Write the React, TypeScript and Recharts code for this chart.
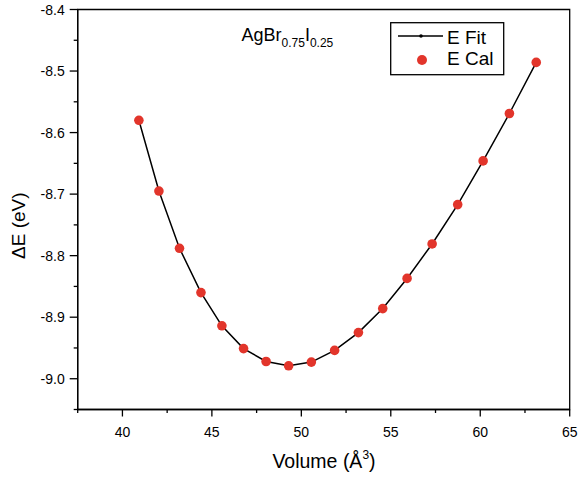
import { ComposedChart, Line, XAxis, YAxis, ReferenceArea, Legend } from "recharts";

const VOLUME = [40.92, 42.04, 43.19, 44.39, 45.56, 46.77, 48.03, 49.29, 50.56, 51.86, 53.19, 54.55, 55.91, 57.31, 58.74, 60.16, 61.63, 63.13];
const E_CAL = [-8.58, -8.695, -8.788, -8.86, -8.914, -8.951, -8.972, -8.979, -8.973, -8.954, -8.925, -8.886, -8.837, -8.781, -8.717, -8.646, -8.569, -8.486];
const E_FIT = [-8.58, -8.695, -8.788, -8.86, -8.914, -8.951, -8.972, -8.979, -8.973, -8.954, -8.925, -8.886, -8.837, -8.781, -8.717, -8.646, -8.569, -8.486];

const X_TICKS = [37.5, 40, 42.5, 45, 47.5, 50, 52.5, 55, 57.5, 60, 62.5, 65];
const Y_TICKS = [-9.05, -9.0, -8.95, -8.9, -8.85, -8.8, -8.75, -8.7, -8.65, -8.6, -8.55, -8.5, -8.45, -8.4];

const FONT = "'Liberation Sans', Arial, sans-serif";
const RED = "#e2352b";

const data = VOLUME.map((v, i) => ({ v, fit: E_FIT[i], cal: E_CAL[i] }));

const isMajorX = (v: number) => Math.abs(v / 5 - Math.round(v / 5)) < 1e-6;
const isMajorY = (v: number) => Math.abs(v * 10 - Math.round(v * 10)) < 1e-6;

function XTick(props: any) {
  const { x, y, payload } = props;
  const major = isMajorX(payload.value);
  return (
    <g>
      <line x1={x} x2={x} y1={y} y2={y + (major ? 7 : 3.5)} stroke="#000" strokeWidth={1.3} />
      {major && (
        <text x={x} y={y + 27.5} textAnchor="middle" fontSize={14} fontFamily={FONT} fill="#000">
          {payload.value}
        </text>
      )}
    </g>
  );
}

function YTick(props: any) {
  const { x, y, payload } = props;
  const major = isMajorY(payload.value);
  return (
    <g>
      <line x1={x - (major ? 8 : 4)} x2={x} y1={y} y2={y} stroke="#000" strokeWidth={1.3} />
      {major && (
        <text x={x - 13} y={y + 5} textAnchor="end" fontSize={14} fontFamily={FONT} fill="#000">
          {payload.value.toFixed(1)}
        </text>
      )}
    </g>
  );
}

function LegendBox() {
  return (
    <svg width={115} height={54} style={{ display: "block" }}>
      <rect x={0.7} y={0.7} width={113} height={52} fill="#fff" stroke="#000" strokeWidth={1.3} />
      <line x1={8} x2={53} y1={14} y2={14} stroke="#000" strokeWidth={1.5} />
      <circle cx={31} cy={14} r={1.8} fill="#000" />
      <text x={57} y={21.5} fontSize={19} fontFamily={FONT} fill="#000">E Fit</text>
      <circle cx={32} cy={38} r={5} fill={RED} />
      <text x={57} y={43} fontSize={19} fontFamily={FONT} fill="#000">E Cal</text>
    </svg>
  );
}

export default function App() {
  return (
    <div style={{ position: "absolute", left: 0, top: 0, background: "#fff" }}>
      <ComposedChart
        width={586}
        height={479}
        data={data}
        margin={{ top: 9.5, right: 16.3, bottom: 0, left: 0 }}
      >
        <XAxis
          dataKey="v"
          type="number"
          domain={[37.5, 65]}
          ticks={X_TICKS}
          interval={0}
          tickSize={0}
          tickMargin={0}
          tick={<XTick />}
          height={69.5}
          axisLine={{ stroke: "#000", strokeWidth: 1.3 }}
          allowDataOverflow
        />
        <YAxis
          type="number"
          domain={[-9.05, -8.4]}
          ticks={Y_TICKS}
          interval={0}
          tickSize={0}
          tickMargin={0}
          tick={<YTick />}
          width={77.7}
          axisLine={{ stroke: "#000", strokeWidth: 1.3 }}
          allowDataOverflow
        />
        <ReferenceArea
          x1={37.5}
          x2={65}
          y1={-9.05}
          y2={-8.4}
          fill="none"
          stroke="#000"
          strokeWidth={1.3}
          ifOverflow="visible"
        />
        <Legend
          layout="vertical"
          align="center"
          verticalAlign="middle"
          wrapperStyle={{ left: 390, top: 22, width: 115, height: 54 }}
          content={() => <LegendBox />}
        />
        <Line
          dataKey="fit"
          type="linear"
          stroke="#000"
          strokeWidth={1.5}
          dot={false}
          isAnimationActive={false}
        />
        <Line
          dataKey="cal"
          type="linear"
          stroke="none"
          dot={{ r: 4.8, fill: RED, stroke: "none" }}
          activeDot={false}
          isAnimationActive={false}
        />
        <text x={241.5} y={40.5} fontSize={18} fontFamily={FONT} fill="#000">
          AgBr
          <tspan fontSize={12} dy={6}>0.75</tspan>
          <tspan dy={-6}>I</tspan>
          <tspan fontSize={12} dy={6}>0.25</tspan>
        </text>
        <text
          x={25}
          y={225.7}
          transform="rotate(-90 25 225.7)"
          textAnchor="middle"
          fontSize={19}
          fontFamily={FONT}
          fill="#000"
        >
          ΔE (eV)
        </text>
        <text x={324} y={468.3} textAnchor="middle" fontSize={19.5} fontFamily={FONT} fill="#000">
          Volume (Å
          <tspan fontSize={12} dy={-9}>3</tspan>
          <tspan dy={9}>)</tspan>
        </text>
      </ComposedChart>
    </div>
  );
}
